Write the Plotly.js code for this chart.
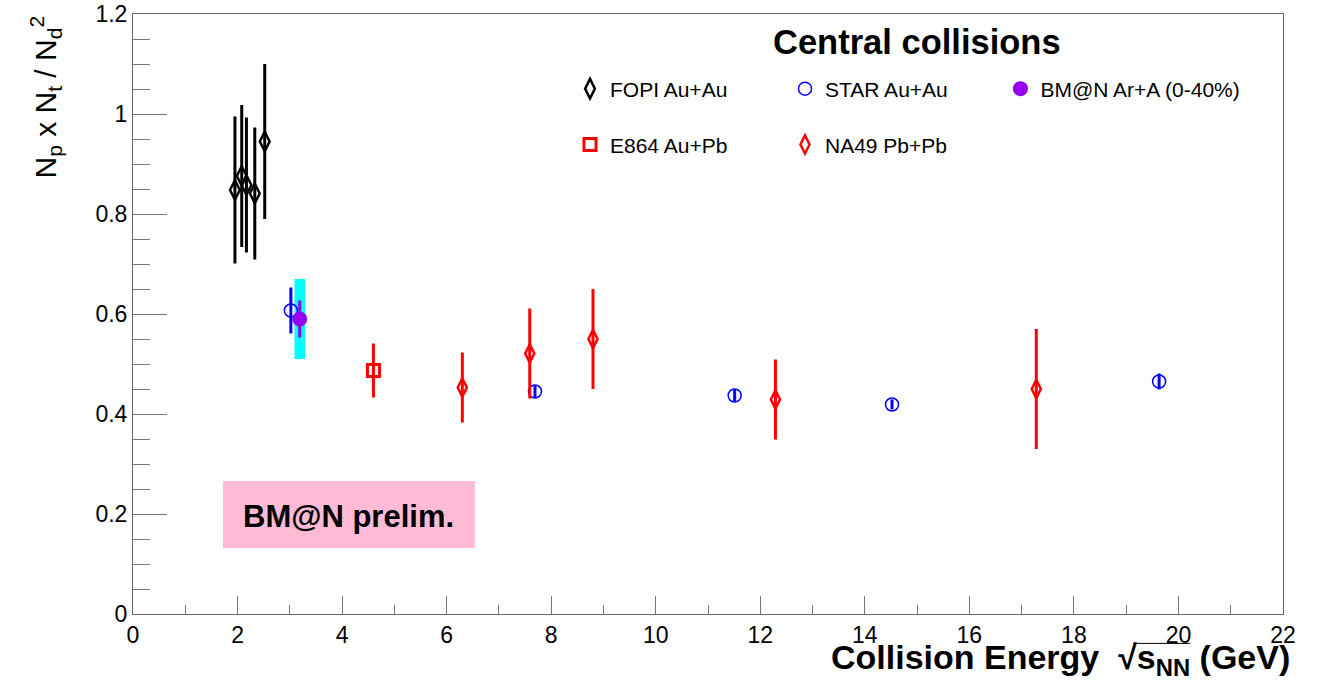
<!DOCTYPE html>
<html>
<head>
<meta charset="utf-8">
<script src="https://cdn.plot.ly/plotly-3.0.1.min.js"></script>
<style>
html,body{margin:0;padding:0;background:#fff;}
#chart{width:1317px;height:681px;}
</style>
</head>
<body>
<div id="chart"></div>
<script>
// FOPI Au+Au
const fopiX = [1.95, 2.08, 2.17, 2.33, 2.52];
const fopiY = [0.848, 0.876, 0.858, 0.841, 0.945];
const fopiErr = [0.147, 0.142, 0.135, 0.132, 0.155];
// STAR Au+Au
const starX = [3.02, 7.69, 11.51, 14.52, 19.63];
const starY = [0.607, 0.445, 0.437, 0.419, 0.465];
const starErr = [0.046, 0.012, 0.012, 0.010, 0.016];
// BM@N Ar+A (0-40%)
const bmnX = [3.19];
const bmnY = [0.59];
const bmnErr = [0.037];
const bmnSys = [0.08];
// E864 Au+Pb
const e864X = [4.6];
const e864Y = [0.487];
const e864Err = [0.054];
// NA49 Pb+Pb
const na49X = [6.3, 7.59, 8.8, 12.29, 17.28];
const na49Y = [0.453, 0.521, 0.55, 0.429, 0.45];
const na49Err = [0.07, 0.09, 0.10, 0.08, 0.12];
// axis ticks
const xTicks = [0, 2, 4, 6, 8, 10, 12, 14, 16, 18, 20, 22];
const yTicks = [0, 0.2, 0.4, 0.6, 0.8, 1, 1.2];
const yTickText = ['0', '0.2', '0.4', '0.6', '0.8', '1', '1.2'];

const FONT = 'Liberation Sans, Arial, Helvetica, sans-serif';

const traces = [
  {
    type: 'bar', x: bmnX,
    y: bmnSys.map(s => 2 * s),
    base: bmnY.map((v, i) => v - bmnSys[i]),
    width: 0.2, marker: {color: '#00ffff', line: {width: 0}},
    showlegend: false, hoverinfo: 'skip'
  },
  {
    type: 'scatter', mode: 'markers', name: 'FOPI Au+Au', x: fopiX, y: fopiY,
    error_y: {type: 'data', array: fopiErr, visible: true, thickness: 3, width: 0, color: '#000'},
    marker: {symbol: 'diamond-tall-open', size: 14, color: '#000', line: {width: 2.5, color: '#000'}},
    legend: 'legend'
  },
  {
    type: 'scatter', mode: 'markers', name: 'STAR Au+Au', x: starX, y: starY,
    error_y: {type: 'data', array: starErr, visible: true, thickness: 3, width: 0, color: '#0000ff'},
    marker: {symbol: 'circle-open', size: 13, color: '#0000ff', line: {width: 1.5, color: '#0000ff'}},
    legend: 'legend'
  },
  {
    type: 'scatter', mode: 'markers', name: 'BM@N Ar+A (0-40%)', x: bmnX, y: bmnY,
    error_y: {type: 'data', array: bmnErr, visible: true, thickness: 3, width: 0, color: '#9400f0'},
    marker: {symbol: 'circle', size: 15, color: '#9400f0'},
    legend: 'legend3'
  },
  {
    type: 'scatter', mode: 'markers', name: 'E864 Au+Pb', x: e864X, y: e864Y,
    error_y: {type: 'data', array: e864Err, visible: true, thickness: 3, width: 0, color: '#ff0000'},
    marker: {symbol: 'square-open', size: 12, color: '#ff0000', line: {width: 3, color: '#ff0000'}},
    legend: 'legend2'
  },
  {
    type: 'scatter', mode: 'markers', name: 'NA49 Pb+Pb', x: na49X, y: na49Y,
    error_y: {type: 'data', array: na49Err, visible: true, thickness: 3, width: 0, color: '#ff0000'},
    marker: {symbol: 'diamond-tall-open', size: 13, color: '#ff0000', line: {width: 2.5, color: '#ff0000'}},
    legend: 'legend2'
  }
];

const legendBase = {
  orientation: 'h', xanchor: 'left', yanchor: 'middle',
  entrywidth: 170, entrywidthmode: 'pixels',
  font: {family: FONT, size: 21, color: '#000'},
  bgcolor: 'rgba(0,0,0,0)', borderwidth: 0
};

const layout = {
  width: 1317, height: 681,
  margin: {l: 133, r: 34, t: 14, b: 67},
  paper_bgcolor: '#fff', plot_bgcolor: '#fff',
  font: {family: FONT, size: 23, color: '#000'},
  showlegend: true,
  legend: Object.assign({}, legendBase, {x: 0.380, y: 0.875}),
  legend2: Object.assign({}, legendBase, {x: 0.380, y: 0.782}),
  legend3: Object.assign({}, legendBase, {x: 0.7543, y: 0.875, entrywidth: 0}),
  xaxis: {
    range: [0, 22], tickmode: 'array', tickvals: xTicks, ticktext: xTicks.map(String),
    ticks: 'inside', ticklen: 18, tickwidth: 1, tickcolor: '#777',
    minor: {dtick: 1, tick0: 0, ticks: 'inside', ticklen: 9, tickcolor: '#777', tickwidth: 1, showgrid: false},
    showline: true, linecolor: '#666', linewidth: 1, mirror: true,
    showgrid: false, zeroline: false, automargin: false,
    tickfont: {family: FONT, size: 23, color: '#000'}
  },
  yaxis: {
    range: [0, 1.2], tickmode: 'array', tickvals: yTicks, ticktext: yTickText,
    ticks: 'inside', ticklen: 34, tickwidth: 1, tickcolor: '#777',
    minor: {dtick: 0.05, tick0: 0, ticks: 'inside', ticklen: 17, tickcolor: '#777', tickwidth: 1, showgrid: false},
    showline: true, linecolor: '#666', linewidth: 1, mirror: true,
    showgrid: false, zeroline: false, automargin: false,
    tickfont: {family: FONT, size: 23, color: '#000'}
  },
  shapes: [
    {type: 'rect', xref: 'x', yref: 'y', x0: 1.72, x1: 6.54, y0: 0.132, y1: 0.266,
     fillcolor: '#ffbbd6', line: {width: 0}, layer: 'below'},
    {type: 'line', xref: 'paper', yref: 'paper', x0: 0.8696, x1: 0.9191, y0: -0.049, y1: -0.049,
     line: {color: '#000', width: 1}}
  ],
  annotations: [
    {text: '<b>Central collisions</b>', xref: 'paper', yref: 'paper', x: 0.682, y: 0.953,
     xanchor: 'center', yanchor: 'middle', showarrow: false,
     font: {family: FONT, size: 34.5, color: '#000'}},
    {text: '<b>BM@N prelim.</b>', xref: 'x', yref: 'y', x: 4.13, y: 0.195,
     xanchor: 'center', yanchor: 'middle', showarrow: false,
     font: {family: FONT, size: 31, color: '#000'}},
    {text: '<b>Collision Energy  √s<sub>NN</sub> (GeV)</b>',
     xref: 'paper', yref: 'paper', x: 1.0078, y: -0.076, xanchor: 'right', yanchor: 'middle',
     showarrow: false, font: {family: FONT, size: 34, color: '#000'}},
    {text: 'N<sub>p</sub> x N<sub>t</sub> / N<sub>d</sub><sup>2</sup>', xref: 'paper', yref: 'paper',
     x: -0.0765, y: 1.0, xanchor: 'center', yanchor: 'top', textangle: -90, showarrow: false,
     font: {family: FONT, size: 30, color: '#000'}}
  ]
};

Plotly.newPlot('chart', traces, layout, {displayModeBar: false, staticPlot: true});
</script>
</body>
</html>
